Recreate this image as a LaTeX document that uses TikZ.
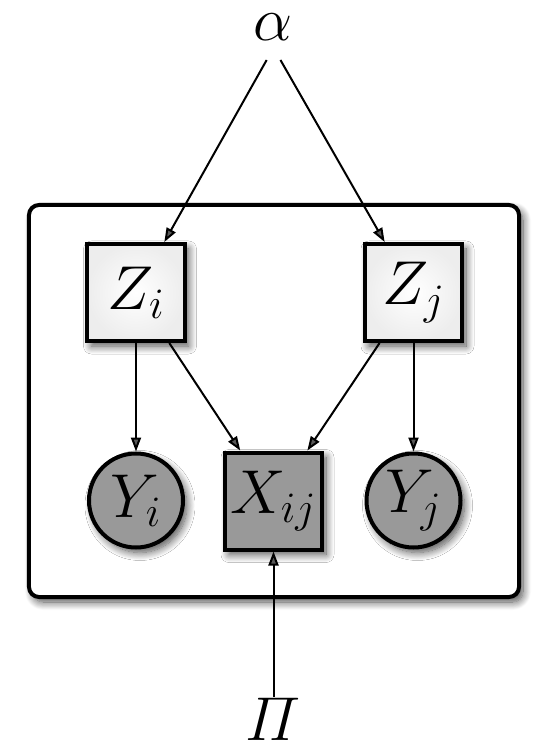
\RequirePackage{fix-cm}
\documentclass[tikz,border=0pt]{standalone}
\usepackage{amsmath}
\usepackage{amssymb}
\usetikzlibrary{arrows.meta, positioning, shadows.blur}

\begin{document}
\begin{tikzpicture}[>={Triangle[length=7pt, width=5pt]}, line width=1pt, on grid]
  \tikzstyle{every node}=[font=\fontsize{31pt}{36pt}\selectfont]
  \tikzstyle{softshadow}=[blur shadow={shadow xshift=2pt, shadow yshift=-2.5pt, shadow blur radius=4pt, shadow blur steps=12, shadow opacity=70}]
  \tikzstyle{latent}=[rectangle, draw, line width=2pt, minimum size=48.5pt, inner sep=2pt, inner color=white, outer color=black!7, softshadow]
  \tikzstyle{obs}=[rectangle, draw, line width=2pt, minimum size=48.5pt, inner sep=2pt, fill=black!40, softshadow]
  \tikzstyle{obsround}=[circle, draw, line width=2pt, minimum size=47pt, inner sep=1pt, fill=black!40, softshadow]
  \tikzstyle{param}=[inner sep=3pt]
  \tikzstyle{plate}=[draw, line width=2pt, rounded corners=5pt, fill=white, softshadow]

  \useasboundingbox (-68pt,-231.25pt) rectangle (202.5pt,146.25pt);
  \draw[plate] (-53.5pt,43.75pt) rectangle (191.5pt,-152.25pt);

  \node[latent]                                   (Zi)    at (0,0)     {$Z_i$};
  \node[latent, right=138.75pt of Zi]             (Zj)                 {$Z_j$};
  \node[obs, below right=104.25pt and 68.75pt of Zi] (Xij)             {$X_{ij}$};
  \node[obsround, below=104pt of Zi]              (Yi)                 {$Y_i$};
  \node[obsround, below=104pt of Zj]              (Yj)                 {$Y_j$};
  \node[param, above=236.75pt of Xij]             (alpha)              {$\alpha$};
  \node[param, inner sep=0pt, below=109pt of Xij] (Pi)                 {$\varPi$};

  \draw[->, shorten <=7pt] (alpha.south) -- (Zi);
  \draw[->, shorten <=7pt] (alpha.south) -- (Zj);
  \draw[->] (Zi) -- (Yi);
  \draw[->] (Zi) -- (Xij);
  \draw[->] (Zj) -- (Xij);
  \draw[->] (Zj) -- (Yj);
  \draw[->] (Pi) -- (Xij);
\end{tikzpicture}
\end{document}
